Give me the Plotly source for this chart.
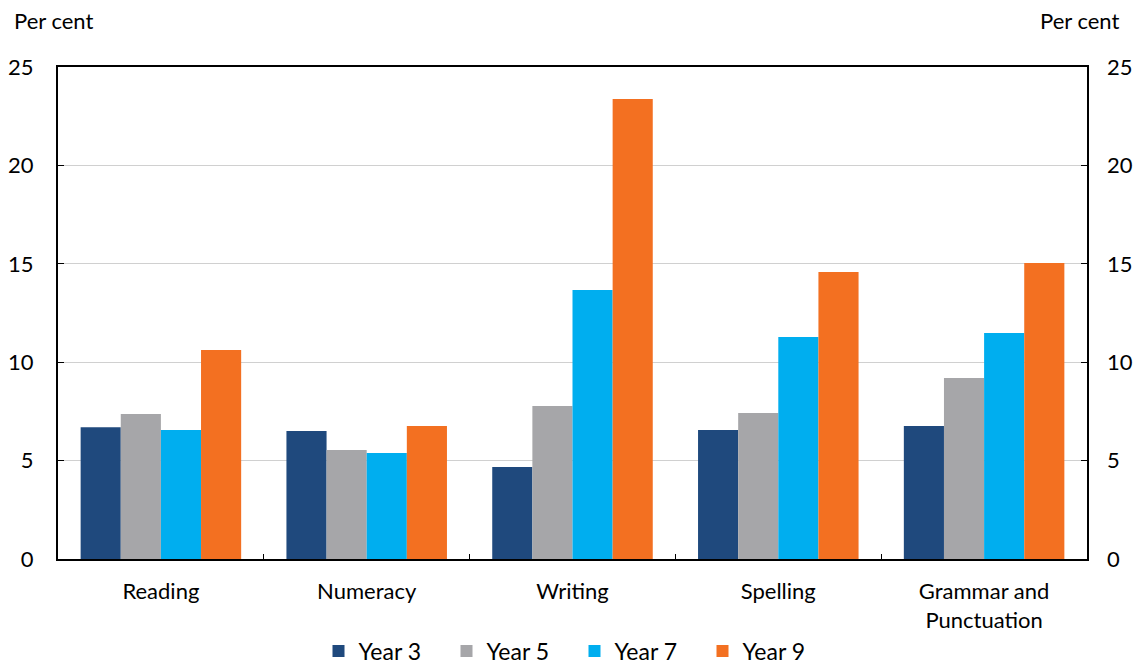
import plotly.graph_objects as go

categories = ["Reading", "Numeracy", "Writing", "Spelling", "Grammar and<br>Punctuation"]
series_names = ["Year 3", "Year 5", "Year 7", "Year 9"]
year3 = [6.7, 6.5, 4.67, 6.55, 6.76]
year5 = [7.37, 5.54, 7.77, 7.42, 9.2]
year7 = [6.55, 5.39, 13.67, 11.28, 11.48]
year9 = [10.62, 6.76, 23.37, 14.58, 15.04]
colors = ["#1F497D", "#A6A6A9", "#00AEEF", "#F37021"]
y_ticks = [0, 5, 10, 15, 20, 25]

font = "Lato, 'Open Sans', sans-serif"
fig = go.Figure()
for name, vals, c in zip(series_names, [year3, year5, year7, year9], colors):
    fig.add_trace(go.Bar(x=categories, y=vals, name=name, marker=dict(color=c, line=dict(width=0))))

# invisible trace for right axis
fig.add_trace(go.Scatter(x=categories, y=year3, yaxis="y2", mode="markers",
                         marker=dict(opacity=0), showlegend=False, hoverinfo="skip"))

# page body has an 8px default margin; compensate so the plot lands where the reference is
fig.update_layout(
    width=1133, height=658,
    paper_bgcolor="white", plot_bgcolor="white",
    margin=dict(l=50, r=54, t=59, b=107, autoexpand=False),
    barmode="group", bargap=0.22, bargroupgap=0,
    font=dict(family=font, size=22, color="#000000"),
    xaxis=dict(showline=True, linecolor="black", linewidth=2, mirror=True,
               ticks="inside", tickson="boundaries", ticklen=5, tickcolor="black",
               tickfont=dict(size=22), showgrid=False, automargin=False,
               ticklabelstandoff=12),
    yaxis=dict(range=[0, 25], tickvals=y_ticks, showline=True, linecolor="black",
               linewidth=2, mirror=True, ticks="inside", ticklen=6, tickcolor="black",
               gridcolor="#D0D0D0", gridwidth=1, zeroline=False, tickfont=dict(size=22),
               ticklabelstandoff=18, automargin=False),
    yaxis2=dict(range=[0, 25], tickvals=y_ticks, overlaying="y", side="right",
                showgrid=False, zeroline=False, ticks="inside", ticklen=6, tickcolor="black",
                tickfont=dict(size=22), ticklabelstandoff=19, automargin=False),
    legend=dict(orientation="h", x=0.5, xanchor="center", xref="container",
                y=15 / 658, yanchor="middle", yref="container",
                font=dict(size=23), traceorder="normal", itemwidth=30,
                entrywidth=83, entrywidthmode="pixels"),
    annotations=[
        dict(text="Per cent", x=0, xref="paper", xanchor="left", xshift=-46, y=1, yref="paper",
             yanchor="middle", yshift=47, showarrow=False, font=dict(size=22)),
        dict(text="Per cent", x=1, xref="paper", xanchor="right", xshift=34, y=1, yref="paper",
             yanchor="middle", yshift=47, showarrow=False, font=dict(size=22)),
    ],
)

fig.write_html("out.html")
